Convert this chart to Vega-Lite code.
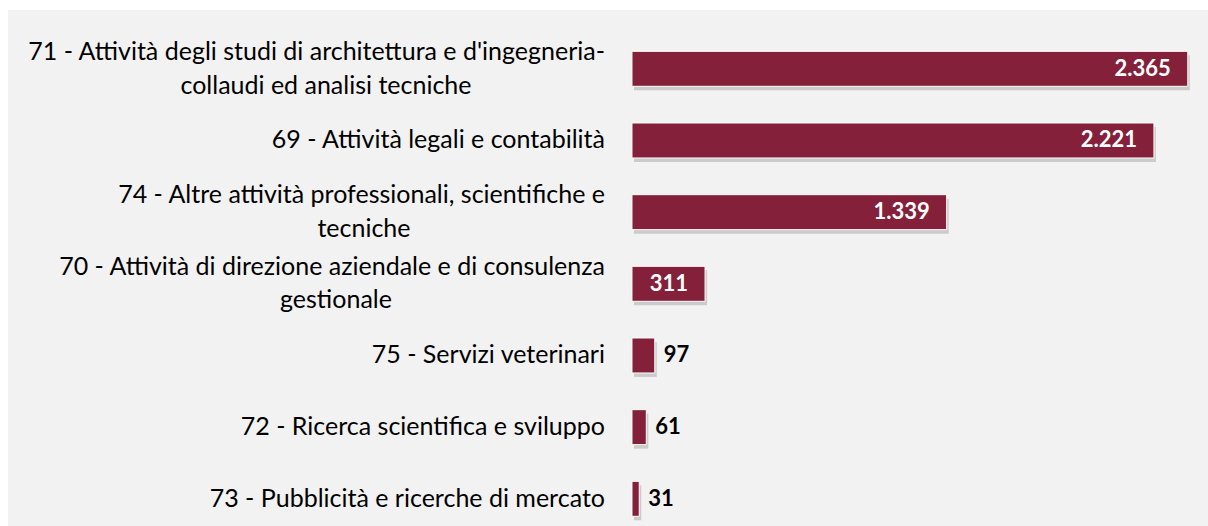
{
  "$schema": "https://vega.github.io/schema/vega-lite/v6.json",
  "width": 1200,
  "height": 516,
  "padding": {"left": 8, "top": 10, "right": 0, "bottom": 0},
  "autosize": {"type": "none"},
  "background": "#ffffff",
  "config": {
    "view": {"fill": "#f2f2f2", "stroke": null},
    "locale": {"number": {"decimal": ",", "thousands": ".", "grouping": [3], "currency": ["€", ""]}}
  },
  "data": {
    "values": [
      {"cat": "71", "l1": "71 - Attività degli studi di architettura e d'ingegneria-", "l2": "collaudi ed analisi tecniche", "value": 2365},
      {"cat": "69", "l1": "69 - Attività legali e contabilità", "l2": null, "value": 2221},
      {"cat": "74", "l1": "74 - Altre attività professionali, scientifiche e", "l2": "tecniche", "value": 1339},
      {"cat": "70", "l1": "70 - Attività di direzione aziendale e di consulenza", "l2": "gestionale", "value": 311},
      {"cat": "75", "l1": "75 - Servizi veterinari", "l2": null, "value": 97},
      {"cat": "72", "l1": "72 - Ricerca scientifica e sviluppo", "l2": null, "value": 61},
      {"cat": "73", "l1": "73 - Pubblicità e ricerche di mercato", "l2": null, "value": 31}
    ]
  },
  "encoding": {
    "y": {
      "field": "cat", "type": "nominal", "sort": null, "axis": null,
      "scale": {"paddingInner": 0.512, "paddingOuter": 0.356, "align": 0.81}
    }
  },
  "layer": [
    {
      "mark": {"type": "bar", "fill": "#000000", "opacity": 0.16, "yOffset": 4, "xOffset": 2},
      "encoding": {
        "x": {"field": "value", "type": "quantitative", "axis": null, "scale": {"domain": [-2655, 2451], "nice": false, "zero": false}}
      }
    },
    {
      "mark": {"type": "bar", "fill": "#84203a", "stroke": "#ffffff", "strokeWidth": 1},
      "encoding": {
        "x": {"field": "value", "type": "quantitative"}
      }
    },
    {
      "transform": [{"filter": "datum.l2 == null"}],
      "mark": {"type": "text", "align": "right", "baseline": "middle", "dx": -27, "font": "Lato", "fontSize": 25, "color": "#000000"},
      "encoding": {
        "x": {"datum": 0, "type": "quantitative"},
        "text": {"field": "l1"}
      }
    },
    {
      "transform": [{"filter": "datum.l2 != null"}],
      "mark": {"type": "text", "align": "right", "baseline": "middle", "dx": -27, "dy": -17, "font": "Lato", "fontSize": 25, "color": "#000000"},
      "encoding": {
        "x": {"datum": 0, "type": "quantitative"},
        "text": {"field": "l1"}
      }
    },
    {
      "transform": [{"filter": "datum.cat == '71'"}],
      "mark": {"type": "text", "align": "center", "baseline": "middle", "dx": -306, "dy": 17, "font": "Lato", "fontSize": 25, "color": "#000000"},
      "encoding": {
        "x": {"datum": 0, "type": "quantitative"},
        "text": {"field": "l2"}
      }
    },
    {
      "transform": [{"filter": "datum.cat == '74'"}],
      "mark": {"type": "text", "align": "center", "baseline": "middle", "dx": -268, "dy": 17, "font": "Lato", "fontSize": 25, "color": "#000000"},
      "encoding": {
        "x": {"datum": 0, "type": "quantitative"},
        "text": {"field": "l2"}
      }
    },
    {
      "transform": [{"filter": "datum.cat == '70'"}],
      "mark": {"type": "text", "align": "center", "baseline": "middle", "dx": -296, "dy": 16, "font": "Lato", "fontSize": 25, "color": "#000000"},
      "encoding": {
        "x": {"datum": 0, "type": "quantitative"},
        "text": {"field": "l2"}
      }
    },
    {
      "transform": [{"filter": "datum.value > 200"}],
      "mark": {"type": "text", "align": "right", "baseline": "middle", "dx": -17, "font": "Lato", "fontSize": 22, "fontWeight": "bold", "color": "#ffffff"},
      "encoding": {
        "x": {"field": "value", "type": "quantitative"},
        "text": {"field": "value", "type": "quantitative", "format": ",d"}
      }
    },
    {
      "transform": [{"filter": "datum.value <= 200"}],
      "mark": {"type": "text", "align": "left", "baseline": "middle", "dx": 9, "font": "Lato", "fontSize": 22, "fontWeight": "bold", "color": "#000000"},
      "encoding": {
        "x": {"field": "value", "type": "quantitative"},
        "text": {"field": "value", "type": "quantitative", "format": ",d"}
      }
    }
  ]
}
